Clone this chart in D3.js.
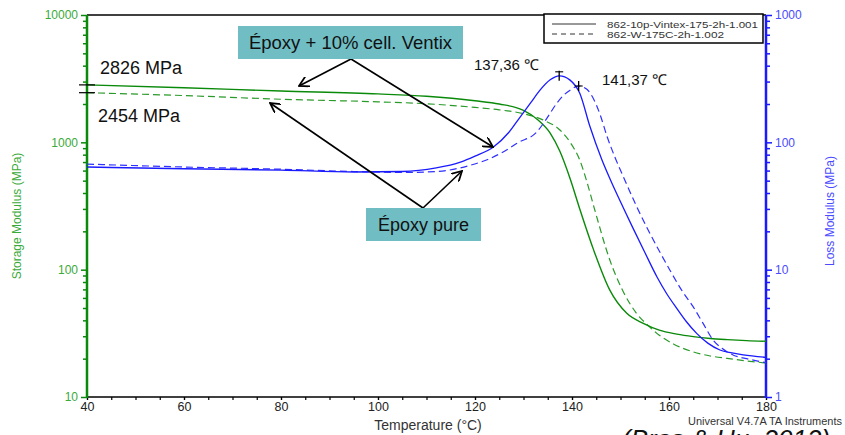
<!DOCTYPE html>
<html><head><meta charset="utf-8">
<script src="https://cdn.jsdelivr.net/npm/d3@7"></script>
<style>body{margin:0;background:#fff}svg{display:block;font-family:"Liberation Sans",Arial,sans-serif}</style>
</head><body><svg id="c" width="845" height="435"></svg>
<script>
// ---- data ----
const xTicks = [40, 60, 80, 100, 120, 140, 160, 180];
const leftTicks = [10, 100, 1000, 10000];
const rightTicks = [1, 10, 100, 1000];

const storageCellT = [40, 60, 80, 100, 110, 120, 125, 130, 133, 135.5, 137.5, 139.6, 141.6, 144.4, 147.8, 151.3, 154.7, 158, 161.6, 165, 168.5, 172, 176, 180];
const storageCellV = [2826, 2680, 2530, 2400, 2300, 2120, 2000, 1780, 1500, 1183, 850, 520, 300, 145, 69, 45.4, 37.9, 33.5, 31.2, 29.8, 28.8, 28.2, 27.7, 27.4];

const storagePureT = [40, 60, 80, 100, 110, 120, 125, 130, 134, 137.5, 140, 141.6, 143, 144.7, 147.8, 150.5, 153.3, 155.5, 157.5, 161, 165, 168.5, 172, 176, 180];
const storagePureV = [2454, 2330, 2180, 2080, 2010, 1880, 1800, 1680, 1500, 1250, 950, 726, 500, 294, 119, 68, 45.4, 37, 31.6, 26, 22.6, 21, 20.1, 19.2, 18.5];

const lossCellT = [40, 60, 80, 95, 105, 112, 117, 120, 123.8, 127, 129.3, 131.5, 133.4, 135.5, 137.4, 139.6, 141.6, 143.7, 146.1, 147.8, 150.6, 152.6, 155, 157.5, 159.5, 161.6, 163.6, 165.7, 168, 170.5, 173, 175.3, 180];
const lossCellV = [64, 62, 60.5, 58.5, 59, 63, 70, 78, 92, 120, 158, 205, 257, 310, 333, 308, 243, 133, 74, 52, 30.5, 21.1, 13.7, 8.8, 6.5, 4.97, 3.9, 3.16, 2.65, 2.34, 2.22, 2.14, 2.05];

const lossPureT = [40, 60, 80, 95, 105, 112, 119, 122.5, 125.8, 129, 132.7, 134.5, 136.8, 138.3, 139.6, 141.4, 143, 144.4, 145.8, 147.2, 149, 150.9, 153.3, 155.7, 158, 160.2, 162.5, 165, 167, 169.1, 171, 173.3, 176, 180];
const lossPureV = [67.5, 64, 61.5, 59, 58, 59, 66, 73, 84, 100, 120, 148, 201, 235, 257, 277, 262, 221, 165, 112, 74, 50.4, 31.5, 20.5, 14, 9.9, 7.0, 5.1, 3.8, 2.8, 2.4, 2.13, 2.0, 1.86];

const legendLabels = ["862-10p-Vintex-175-2h-1.001", "862-W-175C-2h-1.002"];
const peakTemps = [137.36, 141.37];
const peakVals = [333, 277];
const peakLabels = ["137,36 ℃", "141,37 ℃"];
const onsetValues = [2826, 2454];
const onsetLabels = ["2826 MPa", "2454 MPa"];

// ---- layout ----
const L = 87, R = 766, T = 15, B = 397;
const svg = d3.select("#c");
const x = d3.scaleLinear().domain([40, 180]).range([L, R]);
const yL = d3.scaleLog().domain([10, 10000]).range([B, T]);
const yR = d3.scaleLog().domain([1, 1000]).range([B, T]);

const GREEN = "#0a8a0a", GREEN_TXT = "#3aaa3a", BLUE = "#1a1aff", BLUE_TXT = "#4a4aff";

const defs = svg.append("defs");
defs.append("clipPath").attr("id", "clip")
  .append("rect").attr("x", L).attr("y", T).attr("width", R - L).attr("height", B - T);

// top border
svg.append("line").attr("x1", L).attr("x2", R).attr("y1", T).attr("y2", T).attr("stroke", "#000").attr("stroke-width", 1.5);

function minorLog(lo, hi) { const a = []; for (let d = lo; d < hi; d *= 10) for (let k = 2; k <= 9; k++) a.push(d * k); return a; }

// bottom axis
const xMinor = d3.range(40, 181, 5);
const gx = svg.append("g").attr("transform", `translate(0,${B})`);
gx.call(d3.axisBottom(x).tickValues(xMinor).tickSize(3).tickFormat(""));
gx.select(".domain").remove();
gx.selectAll("line").attr("stroke", "#000").attr("stroke-width", 1.2);
const gx2 = svg.append("g").attr("transform", `translate(0,${B})`).call(d3.axisBottom(x).tickValues(xTicks).tickSize(3).tickPadding(2).tickFormat(d3.format("d")));
gx2.select(".domain").remove();
gx2.selectAll("line").attr("stroke", "#000").attr("stroke-width", 1.2);
gx2.selectAll("text").attr("font-size", 12.5).attr("fill", "#222").attr("font-family", "Liberation Sans, Arial, sans-serif");
svg.append("line").attr("x1", L).attr("x2", R).attr("y1", B).attr("y2", B).attr("stroke", "#000").attr("stroke-width", 1.5);

// left axis
const gl = svg.append("g").attr("transform", `translate(${L},0)`);
gl.call(d3.axisLeft(yL).tickValues(minorLog(10, 10000)).tickSize(4).tickFormat(""));
gl.select(".domain").remove();
gl.selectAll("line").attr("stroke", GREEN).attr("stroke-width", 1.5);
const gl2 = svg.append("g").attr("transform", `translate(${L},0)`).call(d3.axisLeft(yL).tickValues(leftTicks).tickSize(6).tickPadding(3).tickFormat(d3.format("d")));
gl2.select(".domain").remove();
gl2.selectAll("line").attr("stroke", GREEN).attr("stroke-width", 1.5);
gl2.selectAll("text").attr("font-size", 12).attr("fill", GREEN_TXT).attr("font-family", "Liberation Sans, Arial, sans-serif");
svg.append("line").attr("x1", L).attr("x2", L).attr("y1", T).attr("y2", B + 1).attr("stroke", GREEN).attr("stroke-width", 2.5);
svg.append("text").attr("transform", `translate(21,${(T + B) / 2 + 10}) rotate(-90)`).attr("text-anchor", "middle")
  .attr("font-size", 12).attr("fill", GREEN_TXT).text("Storage Modulus (MPa)");

// right axis
const gr = svg.append("g").attr("transform", `translate(${R},0)`);
gr.call(d3.axisRight(yR).tickValues(minorLog(1, 1000)).tickSize(4).tickFormat(""));
gr.select(".domain").remove();
gr.selectAll("line").attr("stroke", BLUE).attr("stroke-width", 1.5);
const gr2 = svg.append("g").attr("transform", `translate(${R},0)`).call(d3.axisRight(yR).tickValues(rightTicks).tickSize(6).tickPadding(3).tickFormat(d3.format("d")));
gr2.select(".domain").remove();
gr2.selectAll("line").attr("stroke", BLUE).attr("stroke-width", 1.5);
gr2.selectAll("text").attr("font-size", 12).attr("fill", BLUE_TXT).attr("font-family", "Liberation Sans, Arial, sans-serif");
svg.append("line").attr("x1", R).attr("x2", R).attr("y1", T).attr("y2", B + 1).attr("stroke", BLUE).attr("stroke-width", 2.5);
svg.append("text").attr("transform", `translate(834,${(T + B) / 2 + 5}) rotate(-90)`).attr("text-anchor", "middle")
  .attr("font-size", 12).attr("fill", BLUE_TXT).text("Loss Modulus (MPa)");

// curves
const plot = svg.append("g").attr("clip-path", "url(#clip)");
function drawSeries(ts, vs, ys, color, dash, w) {
  const pts = ts.map((t, i) => [t, vs[i]]);
  plot.append("path").datum(pts)
    .attr("d", d3.line().x(d => x(d[0])).y(d => ys(d[1])).curve(d3.curveMonotoneX))
    .attr("fill", "none").attr("stroke", color).attr("stroke-width", w)
    .attr("stroke-dasharray", dash);
}
drawSeries(storagePureT, storagePureV, yL, "#2a9a2a", "7,4", 1.2);
drawSeries(storageCellT, storageCellV, yL, GREEN, null, 1.4);
drawSeries(lossPureT, lossPureV, yR, "#3030ff", "7,4", 1.2);
drawSeries(lossCellT, lossCellV, yR, BLUE, null, 1.3);

// onset markers & labels
onsetValues.forEach(v => {
  svg.append("line").attr("x1", L - 8).attr("x2", L + 8).attr("y1", yL(v)).attr("y2", yL(v)).attr("stroke", "#000").attr("stroke-width", 1.2);
});
svg.append("text").attr("x", 100).attr("y", 74).attr("font-size", 18).attr("fill", "#111").text(onsetLabels[0]);
svg.append("text").attr("x", 98).attr("y", 122).attr("font-size", 18).attr("fill", "#111").text(onsetLabels[1]);

// peak markers
peakTemps.forEach((t, i) => {
  const px = x(t), py = yR(peakVals[i]);
  svg.append("line").attr("x1", px).attr("x2", px).attr("y1", py - 5).attr("y2", py + 5).attr("stroke", "#000").attr("stroke-width", 1.3);
  svg.append("line").attr("x1", px - 4).attr("x2", px + 4).attr("y1", py - (i === 0 ? 4 : 0)).attr("y2", py - (i === 0 ? 4 : 0)).attr("stroke", "#000").attr("stroke-width", 1.1);
});
svg.append("text").attr("x", 474).attr("y", 70).attr("font-size", 15).attr("fill", "#111").text(peakLabels[0]);
svg.append("text").attr("x", 602).attr("y", 85).attr("font-size", 15).attr("fill", "#111").text(peakLabels[1]);

// legend
svg.append("rect").attr("x", 544).attr("y", 14).attr("width", 219).attr("height", 29).attr("fill", "#fff").attr("stroke", "#000").attr("stroke-width", 1.5);
[0, 1].forEach(i => {
  const yy = 24 + i * 10;
  svg.append("line").attr("x1", 552).attr("x2", 596).attr("y1", yy).attr("y2", yy).attr("stroke", "#333").attr("stroke-width", 1)
    .attr("stroke-dasharray", i ? "5,4" : null);
  svg.append("text").attr("x", 607).attr("y", yy + 3.5).attr("font-size", 9.5).attr("fill", "#333")
    .attr("textLength", i ? 117 : 151).attr("lengthAdjust", "spacingAndGlyphs").text(legendLabels[i]);
});

// annotations
defs.append("marker").attr("id", "ah").attr("viewBox", "0 0 10 10").attr("refX", 9).attr("refY", 5)
  .attr("markerWidth", 11).attr("markerHeight", 11).attr("markerUnits", "userSpaceOnUse").attr("orient", "auto")
  .append("path").attr("d", "M0,0 L9,5 L0,10").attr("fill", "none").attr("stroke", "#000").attr("stroke-width", 1.6);
function arrow(x1, y1, x2, y2) {
  svg.append("line").attr("x1", x1).attr("y1", y1).attr("x2", x2).attr("y2", y2)
    .attr("stroke", "#000").attr("stroke-width", 1.6).attr("marker-end", "url(#ah)");
}
arrow(351, 59, 299, 86);
arrow(351, 59, 493, 147);
arrow(423, 208, 270, 103);
arrow(423, 208, 462, 171);

svg.append("rect").attr("x", 238).attr("y", 26).attr("width", 225).attr("height", 33).attr("fill", "#70bec4");
svg.append("text").attr("x", 350.5).attr("y", 49).attr("text-anchor", "middle").attr("font-size", 18.5).attr("fill", "#111").text("Époxy + 10% cell. Ventix");
svg.append("rect").attr("x", 366).attr("y", 208).attr("width", 115).attr("height", 33).attr("fill", "#70bec4");
svg.append("text").attr("x", 423.5).attr("y", 231).attr("text-anchor", "middle").attr("font-size", 18).attr("fill", "#111").text("Époxy pure");

// footer texts
svg.append("text").attr("x", 428).attr("y", 430).attr("text-anchor", "middle").attr("font-size", 14).attr("fill", "#333").text("Temperature (°C)");
svg.append("text").attr("x", 842).attr("y", 425).attr("text-anchor", "end").attr("font-size", 10.5).attr("fill", "#333")
  .attr("textLength", 154).attr("lengthAdjust", "spacingAndGlyphs").text("Universal V4.7A TA Instruments");
svg.append("text").attr("x", 622).attr("y", 448).attr("font-size", 26).attr("font-style", "italic").attr("fill", "#111").text("(Bras & Hu, 2012)");
</script></body></html>
